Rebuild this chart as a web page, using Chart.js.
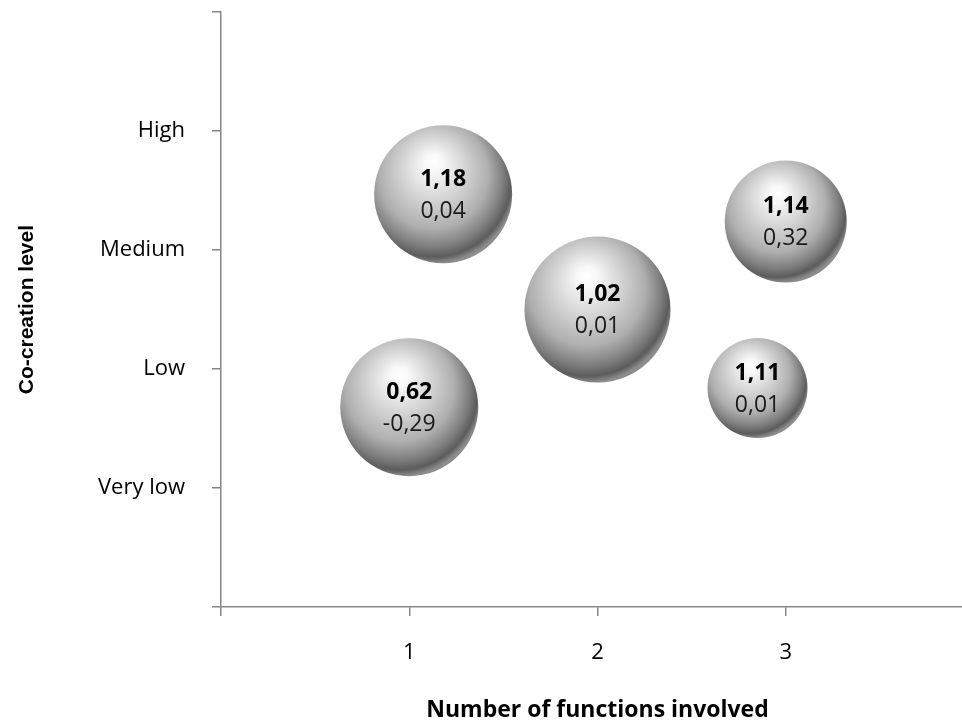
<!DOCTYPE html>
<html>
<head>
<meta charset="utf-8">
<script src="https://cdn.jsdelivr.net/npm/chart.js@4/dist/chart.umd.min.js"></script>
<style>
  html, body { margin: 0; padding: 0; background: #fff; overflow: hidden; }
  #wrap { width: 962px; height: 724px; overflow: hidden; position: relative; }
  #c { position: absolute; left: 0; top: -28px; }
</style>
</head>
<body>
<div id="wrap"><canvas id="c" width="998" height="752"></canvas></div>
<script>
// Bubble positions: number of functions involved (x) and co-creation level (y)
const functionsInvolved = [1.18, 2.00, 3.00, 1.00, 2.85];
const coCreationLevel   = [3.47, 2.50, 3.24, 1.68, 1.84];
// Bubble radii in pixels
const bubbleRadius      = [69, 73, 61, 69, 50];
// Two figures printed inside each bubble
const meanScores  = ['1,18', '1,02', '1,14', '0,62', '1,11'];
const deltaScores = ['0,04', '0,01', '0,32', '-0,29', '0,01'];
// Axis tick labels
const levelLabels    = ['', 'Very low', 'Low', 'Medium', 'High', ''];
const functionLabels = ['', '1', '2', '3', ''];

const AXIS_GREY = '#878787';

// Shaded sphere fill for each bubble (light from the upper left)
function sphereFill(context) {
  const chart = context.chart;
  const xs = chart.scales.x, ys = chart.scales.y;
  if (context.type !== 'data' || !xs || !ys) return '#b5b5b5';
  const i = context.dataIndex;
  const cx = xs.getPixelForValue(functionsInvolved[i]);
  const cy = ys.getPixelForValue(coCreationLevel[i]);
  const r = bubbleRadius[i];
  if (!Number.isFinite(cx) || !Number.isFinite(cy)) return '#b5b5b5';
  const g = chart.ctx.createRadialGradient(
    cx - 0.14 * r, cy - 0.48 * r, 0,
    cx - 0.14 * r, cy - 0.2 * r, 1.2 * r
  );
  g.addColorStop(0.00, '#ffffff');
  g.addColorStop(0.12, '#f7f7f7');
  g.addColorStop(0.40, '#d2d2d2');
  g.addColorStop(0.66, '#afafaf');
  g.addColorStop(0.84, '#7e7e7e');
  g.addColorStop(0.94, '#5c5c5c');
  g.addColorStop(1.00, '#8c8c8c');
  return g;
}

// Writes the two figures in the middle of every bubble
const bubbleLabels = {
  id: 'bubbleLabels',
  afterDatasetsDraw(chart) {
    const ctx = chart.ctx;
    const meta = chart.getDatasetMeta(0);
    ctx.save();
    ctx.textAlign = 'center';
    ctx.textBaseline = 'middle';
    meta.data.forEach((el, i) => {
      ctx.fillStyle = '#000';
      ctx.font = "bold 23px 'Open Sans'";
      ctx.fillText(meanScores[i], el.x, el.y - 15);
      ctx.fillStyle = '#1a1a1a';
      ctx.font = "23px 'Open Sans'";
      ctx.fillText(deltaScores[i], el.x, el.y + 17);
    });
    ctx.restore();
  }
};

new Chart(document.getElementById('c'), {
  type: 'bubble',
  data: {
    datasets: [{
      data: functionsInvolved.map((x, i) => ({ x: x, y: coCreationLevel[i], r: bubbleRadius[i] })),
      backgroundColor: sphereFill,
      borderWidth: 0,
      borderColor: 'rgba(0,0,0,0)',
      hoverRadius: 0
    }]
  },
  plugins: [bubbleLabels],
  options: {
    responsive: false,
    animation: false,
    events: [],
    layout: { autoPadding: false, padding: 0 },
    plugins: {
      legend: { display: false },
      tooltip: { enabled: false }
    },
    scales: {
      x: {
        type: 'linear',
        min: 0,
        max: 4,
        afterFit: (scale) => { scale.height = 117; },
        ticks: {
          stepSize: 1,
          padding: 24,
          color: '#000',
          font: { family: "'Open Sans'", size: 22 },
          callback: (v) => functionLabels[v] ?? ''
        },
        grid: { drawOnChartArea: false, drawTicks: true, tickLength: 9, color: AXIS_GREY, lineWidth: 1.5 },
        border: { display: true, color: AXIS_GREY, width: 1.5 },
        title: {
          display: true,
          text: 'Number of functions involved',
          color: '#000',
          font: { family: "'Open Sans'", size: 23, weight: 'bold' },
          padding: { top: 0, bottom: 0 }
        }
      },
      y: {
        type: 'linear',
        min: 0,
        max: 5,
        afterFit: (scale) => { scale.width = 221; },
        ticks: {
          stepSize: 1,
          padding: 27,
          color: '#000',
          font: { family: "'Open Sans'", size: 22 },
          callback: (v) => levelLabels[v] ?? ''
        },
        grid: { drawOnChartArea: false, drawTicks: true, tickLength: 9, color: AXIS_GREY, lineWidth: 1.5 },
        border: { display: true, color: AXIS_GREY, width: 1.5 },
        title: {
          display: true,
          text: 'Co-creation level',
          color: '#000',
          font: { family: "'Liberation Sans', Arial, sans-serif", size: 21, weight: 'bold' },
          padding: { top: 15, bottom: 0 }
        }
      }
    }
  }
});
</script>
</body>
</html>
